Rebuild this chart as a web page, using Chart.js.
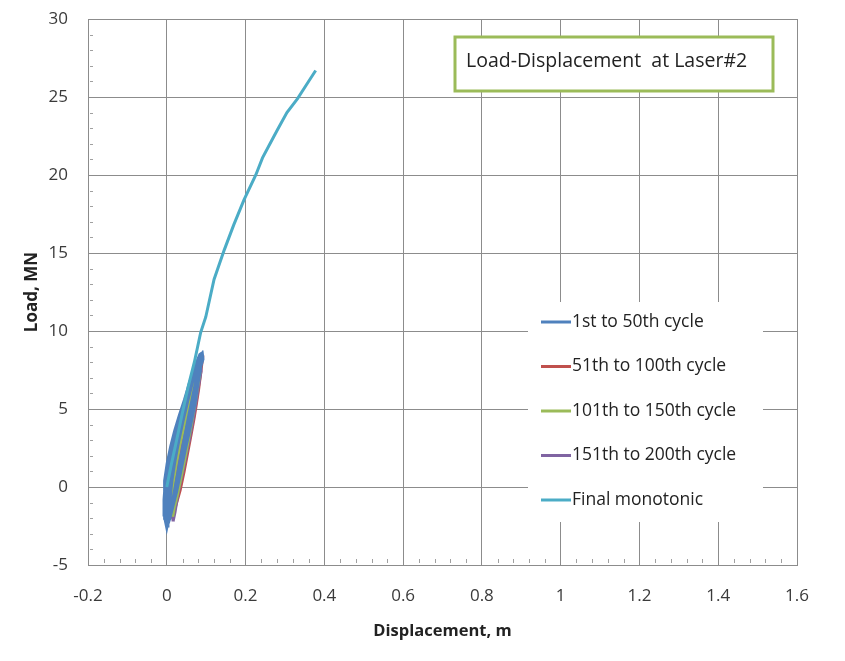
<!DOCTYPE html>
<html>
<head>
<meta charset="utf-8">
<script src="https://cdn.jsdelivr.net/npm/chart.js@4.4.1/dist/chart.umd.min.js"></script>
<style>
  html, body { margin: 0; padding: 0; background: #fff; }
</style>
</head>
<body>
<canvas id="chart" width="845" height="661"></canvas>
<script>
// tick labels
const xTicks = [-0.2, 0, 0.2, 0.4, 0.6, 0.8, 1, 1.2, 1.4, 1.6];
const yTicks = [-5, 0, 5, 10, 15, 20, 25, 30];

const seriesNames = ['1st to 50th cycle', '51th to 100th cycle', '101th to 150th cycle',
                     '151th to 200th cycle', 'Final monotonic'];
const seriesColors = ['#4f81bd', '#c0504d', '#9bbb59', '#8064a2', '#4bacc6'];

// 1st to 50th cycle (displacement m / load MN)
const cyc1X = [0.001, -0.006, -0.007, -0.004, 0.002, 0.009, 0.017, 0.027, 0.038, 0.050, 0.062, 0.074, 0.084, 0.090,
               0.092, 0.085, 0.079, 0.072, 0.064, 0.056, 0.047, 0.038, 0.029, 0.020, 0.012, 0.006, 0.001,
               0.003, -0.003, -0.004, 0.000, 0.007, 0.015, 0.025, 0.036, 0.048, 0.060, 0.072, 0.083,
               0.086, 0.079, 0.071, 0.063, 0.055, 0.046, 0.037, 0.028, 0.019, 0.011, 0.003,
               0.004, -0.001, 0.000, 0.005, 0.012, 0.021, 0.031, 0.043, 0.055, 0.067, 0.078,
               0.082, 0.075, 0.067, 0.059, 0.050, 0.041, 0.032, 0.023, 0.014, 0.006, 0.004,
               0.000, -0.005, -0.006, -0.005, 0.001, 0.010, 0.020, 0.032, 0.045, 0.058, 0.070, 0.080, 0.088,
               0.089, 0.083, 0.076, 0.068, 0.060, 0.052, 0.043, 0.034, 0.025, 0.016, 0.008, 0.000,
               0.006, 0.004, 0.008, 0.015, 0.024, 0.034, 0.046, 0.058, 0.070, 0.081,
               0.083, 0.074, 0.065, 0.056, 0.047, 0.038, 0.029, 0.020, 0.012, 0.006,
               0.008, 0.008, 0.013, 0.021, 0.030, 0.041, 0.053, 0.065, 0.077, 0.085,
               0.086, 0.080, 0.072, 0.064, 0.055, 0.046, 0.037, 0.027, 0.018, 0.008];
const cyc1Y = [-2.5, -1.8, -0.8, 0.2, 1.2, 2.2, 3.1, 4.1, 5.0, 6.0, 7.0, 7.9, 8.5, 8.6,
               8.2, 7.6, 6.6, 5.4, 4.4, 3.4, 2.4, 1.3, 0.3, -0.6, -1.4, -2.0, -2.5,
               -2.3, -1.5, -0.4, 0.6, 1.7, 2.7, 3.7, 4.7, 5.8, 6.8, 7.7, 8.3,
               8.0, 7.0, 5.9, 4.8, 3.7, 2.6, 1.5, 0.4, -0.7, -1.6, -2.3,
               -2.1, -1.2, -0.1, 1.0, 2.0, 3.0, 4.0, 5.1, 6.2, 7.2, 8.0,
               7.7, 6.7, 5.6, 4.5, 3.3, 2.2, 1.1, 0.0, -1.1, -1.9, -2.1,
               -2.6, -2.0, -1.0, 0.4, 1.5, 2.6, 3.6, 4.6, 5.6, 6.7, 7.6, 8.2, 8.5,
               8.1, 7.2, 6.1, 5.0, 4.0, 3.0, 1.9, 0.8, -0.3, -1.2, -2.0, -2.6,
               -2.0, -1.0, 0.2, 1.4, 2.6, 3.8, 5.0, 6.2, 7.3, 8.1,
               7.8, 6.8, 5.7, 4.6, 3.4, 2.2, 1.0, -0.2, -1.2, -2.0,
               -1.9, -0.8, 0.4, 1.7, 2.9, 4.2, 5.5, 6.7, 7.7, 8.1,
               7.9, 7.0, 5.9, 4.8, 3.6, 2.4, 1.2, 0.0, -1.0, -1.9];

// 51th to 100th cycle
const cyc2X = [0.012, 0.010, 0.013, 0.020, 0.029, 0.039, 0.050, 0.062, 0.074, 0.084, 0.090,
               0.086, 0.081, 0.075, 0.070, 0.062, 0.053, 0.044, 0.034, 0.024, 0.016, 0.012,
               0.014, 0.013, 0.018, 0.027, 0.038, 0.050, 0.063, 0.076, 0.086,
               0.087, 0.082, 0.076, 0.069, 0.061, 0.052, 0.043, 0.033, 0.023, 0.014];
const cyc2Y = [-1.9, -1.0, 0.0, 1.2, 2.4, 3.6, 4.8, 6.0, 7.1, 7.9, 8.1,
               7.3, 6.3, 5.3, 4.5, 3.4, 2.2, 1.0, -0.2, -1.1, -1.8, -1.9,
               -1.7, -0.7, 0.5, 1.8, 3.1, 4.4, 5.7, 6.9, 7.8,
               7.5, 6.6, 5.6, 4.6, 3.5, 2.3, 1.1, -0.1, -1.1, -1.7];

// 101th to 150th cycle
const cyc3X = [0.015, 0.012, 0.016, 0.024, 0.034, 0.046, 0.058, 0.070, 0.081,
               0.084, 0.078, 0.071, 0.063, 0.054, 0.045, 0.036, 0.027, 0.019, 0.015];
const cyc3Y = [-1.9, -0.9, 0.2, 1.5, 2.8, 4.1, 5.4, 6.6, 7.6,
               7.3, 6.4, 5.3, 4.1, 2.9, 1.7, 0.6, -0.5, -1.3, -1.9];

// 151th to 200th cycle
const cyc4X = [0.016, 0.014, 0.017, 0.024, 0.033, 0.044, 0.056, 0.068, 0.079, 0.086,
               0.087, 0.081, 0.074, 0.066, 0.057, 0.048, 0.040, 0.032, 0.026, 0.021, 0.016];
const cyc4Y = [-2.2, -1.3, -0.2, 1.0, 2.3, 3.6, 4.9, 6.1, 7.2, 7.7,
               7.4, 6.5, 5.4, 4.2, 3.0, 1.9, 0.9, 0.0, -0.8, -1.6, -2.2];

// final monotonic push
const monoX = [0.000, 0.012, 0.025, 0.040, 0.055, 0.070, 0.086, 0.099, 0.120, 0.146, 0.170,
               0.196, 0.226, 0.243, 0.262, 0.281, 0.305, 0.332, 0.355, 0.378];
const monoY = [0.0, 1.5, 3.0, 4.8, 6.5, 8.0, 9.9, 10.9, 13.3, 15.2, 16.8,
               18.4, 20.0, 21.1, 22.0, 22.9, 24.0, 24.9, 25.8, 26.7];

const xs = [cyc1X, cyc2X, cyc3X, cyc4X, monoX];
const ys = [cyc1Y, cyc2Y, cyc3Y, cyc4Y, monoY];
const drawOrder = [1, 4, 2, 3, 0];

const FONT = '"Open Sans", "Liberation Sans", sans-serif';

const datasets = seriesNames.map((name, i) => ({
    label: name,
    data: xs[i].map((x, k) => ({x: x, y: ys[i][k]})),
    borderColor: seriesColors[i],
    backgroundColor: seriesColors[i],
    borderWidth: 3,
    showLine: true,
    pointRadius: 0,
    tension: 0,
    order: drawOrder[i]
}));

// minor ticks inside the axes, title box and legend box
const extras = {
    id: 'extras',
    afterDraw(chart) {
        const ctx = chart.ctx;
        const a = chart.chartArea;
        const sx = chart.scales.x, sy = chart.scales.y;
        ctx.save();
        ctx.strokeStyle = '#a0a0a0';
        ctx.lineWidth = 1;
        ctx.beginPath();
        for (let k = -4; k <= 29; k++) {
            if (k % 5 === 0) continue;
            const py = Math.round(sy.getPixelForValue(k)) + 0.5;
            ctx.moveTo(a.left + 2, py);
            ctx.lineTo(a.left + 5, py);
        }
        for (let k = -4; k <= 39; k++) {
            if (k % 5 === 0) continue;
            const px = Math.round(sx.getPixelForValue(k * 0.04)) + 0.5;
            ctx.moveTo(px, a.bottom - 6);
            ctx.lineTo(px, a.bottom - 2);
        }
        ctx.stroke();

        // title box
        ctx.fillStyle = '#fff';
        ctx.fillRect(455, 37, 318, 54);
        ctx.strokeStyle = '#9bbb59';
        ctx.lineWidth = 3;
        ctx.strokeRect(455, 37, 318, 54);
        ctx.fillStyle = '#222';
        ctx.font = '19.5px ' + FONT;
        ctx.textBaseline = 'middle';
        ctx.textAlign = 'left';
        ctx.fillText('Load-Displacement  at Laser#2', 466, 61);

        // legend
        ctx.fillStyle = '#fff';
        ctx.fillRect(528, 302, 235, 220);
        ctx.font = '17.5px ' + FONT;
        seriesNames.forEach((name, i) => {
            const y = 322 + i * 44.5;
            ctx.strokeStyle = seriesColors[i];
            ctx.lineWidth = 3;
            ctx.beginPath();
            ctx.moveTo(541, y);
            ctx.lineTo(571, y);
            ctx.stroke();
            ctx.fillStyle = '#222';
            ctx.fillText(name, 572, y);
        });
        ctx.restore();
    }
};

new Chart(document.getElementById('chart'), {
    type: 'scatter',
    data: {datasets: datasets},
    options: {
        responsive: false,
        animation: false,
        layout: {padding: {top: 19, right: 48, left: 0, bottom: 0}},
        plugins: {
            legend: {display: false},
            tooltip: {enabled: false}
        },
        scales: {
            x: {
                type: 'linear',
                min: -0.2,
                max: 1.6,
                afterBuildTicks: s => { s.ticks = xTicks.map(v => ({value: v})); },
                afterFit: s => { s.height = 96; s.paddingRight = 0; },
                grid: {color: '#8c8c8c', drawTicks: false},
                border: {color: '#8c8c8c'},
                ticks: {
                    padding: 21,
                    color: '#3a3a3a',
                    font: {family: FONT, size: 17},
                    maxRotation: 0,
                    callback: v => String(v)
                },
                title: {
                    display: true,
                    text: 'Displacement, m',
                    color: '#222',
                    font: {family: FONT, size: 16.5, weight: 'bold'},
                    padding: {top: 0, bottom: 20}
                }
            },
            y: {
                type: 'linear',
                min: -5,
                max: 30,
                afterBuildTicks: s => { s.ticks = yTicks.map(v => ({value: v})); },
                afterFit: s => { s.width = 88; s.paddingTop = 0; s.paddingBottom = 0; },
                grid: {color: '#8c8c8c', drawTicks: false},
                border: {color: '#8c8c8c'},
                ticks: {
                    padding: 20,
                    color: '#3a3a3a',
                    font: {family: FONT, size: 17}
                },
                title: {
                    display: true,
                    text: 'Load, MN',
                    color: '#222',
                    font: {family: FONT, size: 17, weight: 'bold'},
                    padding: {top: 22, bottom: 0}
                }
            }
        }
    },
    plugins: [extras]
});
</script>
</body>
</html>
